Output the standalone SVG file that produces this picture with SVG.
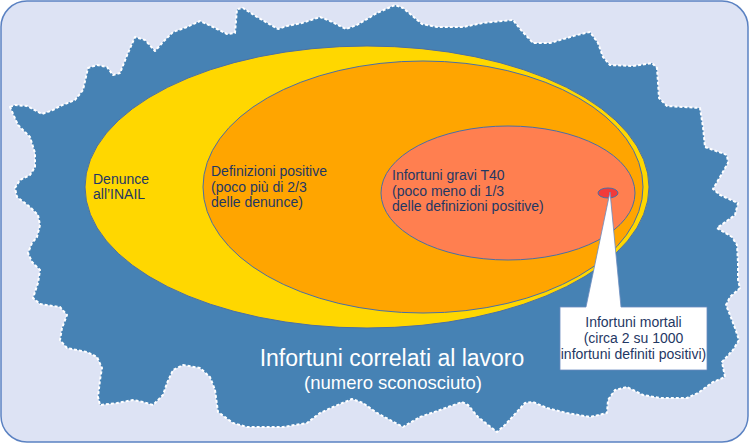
<svg xmlns="http://www.w3.org/2000/svg" width="750" height="444" viewBox="0 0 750 444">
<style>
.lbl{font-family:"Liberation Sans",Arial,sans-serif;font-size:14px;fill:#1f3864}
.big{font-family:"Liberation Sans",Arial,sans-serif;fill:#ffffff}
.ell{stroke:#4a6fa5;stroke-width:1}
</style>
<g id="background">
<rect x="1" y="1" width="747" height="441" rx="26" ry="26" fill="#dde3f4" stroke="#5b82c2" stroke-width="1.5"/>
</g>
<g id="work-injuries">
<path fill="#4682b4" stroke="#ffffff" stroke-width="2" stroke-dasharray="3 2" stroke-linejoin="round" d="M10,107 L15,105 L27,106 L42,114 L53,110 L60,106 L75,100 L83,90 L88,68 L97,65 L107,67 L113,75 L120,73 L128,53 L135,37 L145,40 L155,51 L163,42 L173,32 L187,27 L200,21 L213,27 L227,34 L235,33 L237,9 L243,8 L257,17 L278,29 L287,26 L302,23 L320,17 L330,21 L346,29 L357,25 L377,13 L395,5 L403,8 L422,24 L437,27 L463,27 L483,23 L513,20 L521,30 L533,43 L550,43 L577,35 L590,32 L598,43 L603,57 L610,65 L633,66 L652,63 L657,68 L659,98 L667,106 L700,108 L703,127 L705,147 L727,155 L728,163 L720,177 L713,189 L720,195 L738,203 L735,215 L717,228 L732,237 L737,245 L738,263 L738,280 L740,288 L730,297 L726,305 L730,315 L735,328 L739,340 L733,350 L722,362 L725,377 L713,382 L698,393 L687,398 L660,398 L643,395 L627,387 L615,390 L608,400 L607,413 L590,417 L567,413 L547,408 L533,402 L525,403 L505,425 L497,432 L478,417 L468,405 L462,402 L440,410 L420,417 L403,427 L377,413 L363,403 L352,399 L333,407 L320,413 L307,423 L283,427 L247,427 L233,423 L218,412 L215,390 L210,377 L200,368 L183,365 L173,370 L167,383 L163,395 L153,405 L143,402 L133,400 L117,403 L100,405 L98,397 L100,380 L102,368 L97,357 L87,352 L67,348 L60,340 L62,328 L67,315 L60,307 L40,304 L33,298 L38,283 L40,270 L32,262 L28,253 L32,243 L37,237 L40,225 L38,215 L30,207 L17,197 L15,188 L20,180 L30,175 L35,167 L35,153 L30,137 L18,125 Z"/>
<text class="big" x="392" y="366" font-size="23" text-anchor="middle">Infortuni correlati al lavoro</text>
<text class="big" x="393" y="389" font-size="18.5" text-anchor="middle">(numero sconosciuto)</text>
</g>
<g id="denunce">
<ellipse class="ell" cx="367" cy="187" rx="282" ry="141" fill="#ffd700"/>
<text class="lbl" x="93" y="184">Denunce</text>
<text class="lbl" x="93" y="199">all’INAIL</text>
</g>
<g id="definizioni">
<ellipse class="ell" cx="423" cy="187" rx="220" ry="126" fill="#ffa500"/>
<text class="lbl" x="211" y="176">Definizioni positive</text>
<text class="lbl" x="211" y="191.5">(poco più di 2/3</text>
<text class="lbl" x="211" y="207">delle denunce)</text>
</g>
<g id="gravi">
<ellipse class="ell" cx="508" cy="193" rx="127" ry="67" fill="#ff7f50"/>
<text class="lbl" x="392" y="180">Infortuni gravi T40</text>
<text class="lbl" x="392" y="195.5">(poco meno di 1/3</text>
<text class="lbl" x="392" y="211">delle definizioni positive)</text>
</g>
<g id="mortali">
<ellipse class="ell" cx="608" cy="193" rx="10" ry="5" fill="#f23a3a"/>
</g>
<g id="callout">
<path d="M560,307 L586,307 L610,192 L621,307 L707,307 L707,370 L560,370 Z" fill="#ffffff" stroke="#6b8cbf" stroke-width="0.8" stroke-linejoin="miter"/>
<text class="lbl" x="633.5" y="327" text-anchor="middle">Infortuni mortali</text>
<text class="lbl" x="633.5" y="343" text-anchor="middle">(circa 2 su 1000</text>
<text class="lbl" x="633.5" y="358.5" text-anchor="middle">infortuni definiti positivi)</text>
</g>
</svg>
